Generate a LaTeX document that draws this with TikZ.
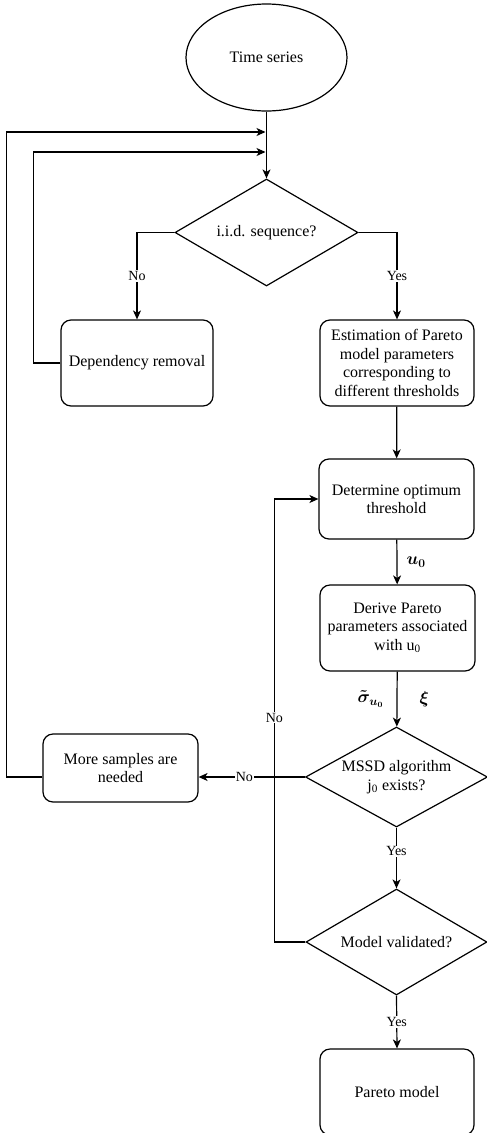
\documentclass[tikz,border=0pt]{standalone}
\usepackage{amsmath}
\usepackage{fontspec}
\setmainfont{Liberation Serif}
\usetikzlibrary{shapes.geometric,arrows.meta}
\begin{document}
\begin{tikzpicture}[x=1pt,y=-1pt,
  every node/.style={font=\rmfamily\fontsize{16}{18.4}\selectfont, align=center},
  box/.style={draw, line width=1.2pt, rectangle, rounded corners=10pt, inner sep=0pt},
  dia/.style={draw, line width=1.2pt, diamond, aspect=1.83, inner sep=0pt},
  arr/.style={line width=1.2pt, -{Stealth[length=9pt,width=8pt,inset=2.5pt]}},
  lab/.style={font=\rmfamily\fontsize{14}{16}\selectfont, fill=white, inner sep=1pt},
  mlab/.style={font=\fontsize{17}{19}\selectfont, inner sep=0pt}]
\useasboundingbox (0,0) rectangle (487,1133);
\node[draw, line width=1.2pt, ellipse, minimum width=161pt, minimum height=107pt, inner sep=0pt] (ts) at (266.5,57.5) {Time series};
\node[dia, minimum width=183pt, minimum height=107pt] (d1) at (266.5,232.5) {i.i.d. sequence?};
\node[box, minimum width=152pt, minimum height=86pt] (dr) at (137,363) {Dependency removal};
\node[box, minimum width=154pt, minimum height=86pt] (est) at (397,363) {Estimation of Pareto\\model parameters\\corresponding to\\different thresholds};
\node[box, minimum width=155pt, minimum height=80pt] (det) at (396.5,499) {Determine optimum\\threshold};
\node[box, minimum width=155pt, minimum height=86pt] (der) at (397.5,628) {Derive Pareto\\parameters associated\\with u\textsubscript{0}};
\node[dia, minimum width=182pt, minimum height=100pt] (mssd) at (396.5,777) {MSSD algorithm\\j\textsubscript{0} exists?};
\node[box, minimum width=155pt, minimum height=68pt] (more) at (120.5,768) {More samples are\\needed};
\node[dia, minimum width=181pt, minimum height=106pt] (mv) at (396.5,942) {Model validated?};
\node[box, minimum width=154pt, minimum height=86pt] (pm) at (397,1092) {Pareto model};
\coordinate (j1) at (265.5,132);
\coordinate (j2) at (265.5,152);
\draw[arr] (ts) -- (d1);
\draw[arr] (d1.west) -| node[lab, pos=0.75] {No} (dr.north);
\draw[arr] (d1.east) -| node[lab, pos=0.75] {Yes} (est.north);
\draw[arr] (dr.west) -- ++(-27,0) |- (j2);
\draw[arr] (est) -- (det);
\draw[arr] (det) -- node[mlab, midway, right=9pt] {$\boldsymbol{u_0}$} (der);
\draw[arr] (der) -- node[mlab, midway, left=13pt] {$\boldsymbol{\tilde\sigma_{u_0}}$} node[mlab, midway, right=22pt] {$\boldsymbol{\xi}$} (mssd);
\draw[arr] (mssd.west) -- node[lab, pos=0.57] {No} (more.east |- mssd.west);
\draw[arr] (more.west |- mssd.west) -- ++(-36,0) |- (j1);
\draw[arr] (mv.west) -- ++(-31,0) |- node[lab, pos=0.253] {No} (det.west);
\draw[arr] (mssd.south) -- node[lab, pos=0.39] {Yes} (mv.north);
\draw[arr] (mv.south) -- node[lab, pos=0.5] {Yes} (pm.north);
\end{tikzpicture}
\end{document}
